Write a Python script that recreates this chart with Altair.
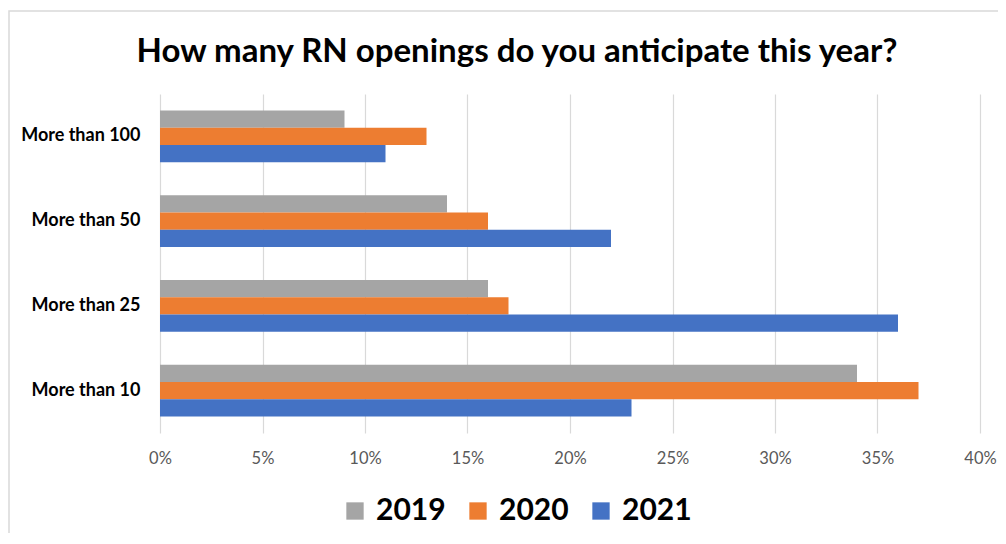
import altair as alt
import pandas as pd

categories = ["More than 100", "More than 50", "More than 25", "More than 10"]
years = ["2019", "2020", "2021"]
values_2019 = [0.09, 0.14, 0.16, 0.34]
values_2020 = [0.13, 0.16, 0.17, 0.37]
values_2021 = [0.11, 0.22, 0.36, 0.23]
colors = ["#A5A5A5", "#ED7D31", "#4472C4"]
x_ticks = [0, 0.05, 0.10, 0.15, 0.20, 0.25, 0.30, 0.35, 0.40]

rows = []
for yr, vals in zip(years, [values_2019, values_2020, values_2021]):
    for c, v in zip(categories, vals):
        rows.append({"category": c, "year": yr, "value": v})
df = pd.DataFrame(rows)

FONT = "Lato"

bars = alt.Chart(df).mark_bar().encode(
    y=alt.Y("category:N", sort=categories, title=None,
            scale=alt.Scale(paddingInner=0.39, paddingOuter=0.195),
            axis=alt.Axis(labelFont=FONT, labelFontWeight="bold", labelFontSize=18,
                          labelColor="#000000", ticks=False, domain=False,
                          labelPadding=20)),
    yOffset=alt.YOffset("year:N", sort=years, scale=alt.Scale(paddingInner=0, paddingOuter=0)),
    x=alt.X("value:Q", title=None,
            scale=alt.Scale(domain=[0, 0.40], nice=False),
            axis=alt.Axis(format=".0%", values=x_ticks, labelFont=FONT, labelFontSize=16.5,
                          labelColor="#595959", ticks=False, domain=False,
                          labelFlush=False, labelOverlap=False,
                          labelPadding=17, grid=True, gridColor="#D9D9D9",
                          gridWidth=1.2)),
    color=alt.Color("year:N", sort=years,
                    scale=alt.Scale(domain=years, range=colors),
                    legend=alt.Legend(title=None, orient="none", direction="horizontal",
                                      legendX=180, legendY=402,
                                      symbolType="square", symbolSize=300,
                                      symbolStrokeWidth=0,
                                      labelFont=FONT, labelFontWeight="bold",
                                      labelFontSize=30, labelColor="#000000",
                                      labelOffset=6, columnPadding=17)),
)

border = alt.Chart(pd.DataFrame({"b": [0]})).mark_rect(
    fill=None, stroke="#D9D9D9", strokeWidth=1.5
).encode(
    x=alt.value(-151), x2=alt.value(1100),
    y=alt.value(-83), y2=alt.value(600),
)

chart = alt.layer(border, bars).properties(
    width=820,
    height=339,
    autosize=alt.AutoSizeParams(type="none"),
    padding={"left": 152, "top": 86, "right": 18, "bottom": 100},
    background="#FFFFFF",
    title=alt.TitleParams(
        "How many RN openings do you anticipate this year?",
        font=FONT, fontSize=33, fontWeight="bold", color="#000000",
        anchor="middle", frame="group", dx=-53, offset=28, dy=87,
    ),
).configure_view(stroke=None)

chart.save("out.html", embed_options={"renderer": "svg", "actions": False})
